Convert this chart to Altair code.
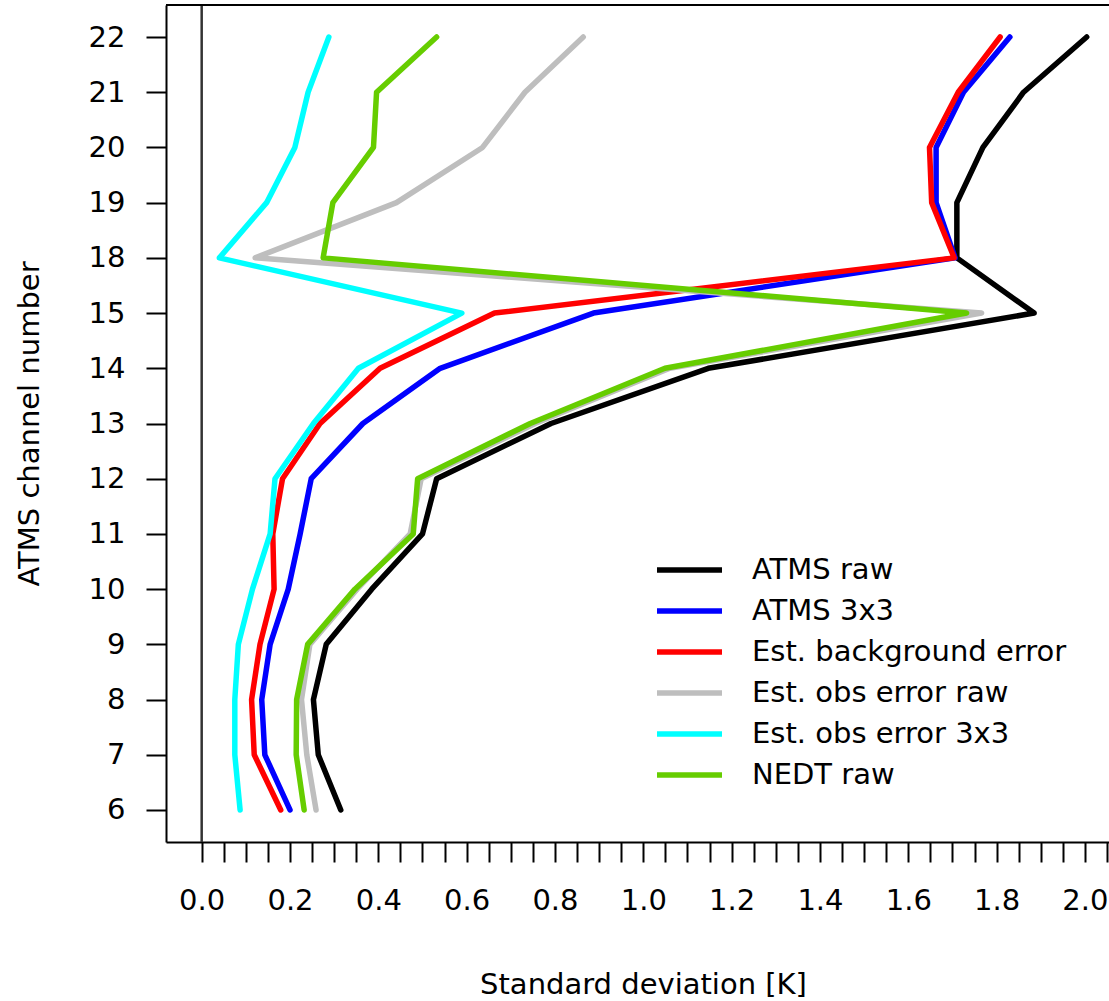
import json
import altair as alt
import pandas as pd

# ---- data ----
channels = ["6", "7", "8", "9", "10", "11", "12", "13", "14", "15", "18", "19", "20", "21", "22"]
series_names = ["ATMS raw", "ATMS 3x3", "Est. background error",
                "Est. obs error raw", "Est. obs error 3x3", "NEDT raw"]
series_colors = ["#000000", "#0000FF", "#FF0000", "#BEBEBE", "#00FFFF", "#66CD00"]

atms_raw = [0.315, 0.264, 0.253, 0.282, 0.385, 0.500, 0.532, 0.791, 1.147, 1.885,
            1.710, 1.710, 1.769, 1.861, 2.004]
atms_3x3 = [0.200, 0.143, 0.136, 0.155, 0.196, 0.223, 0.248, 0.365, 0.540, 0.887,
            1.706, 1.663, 1.663, 1.725, 1.830]
est_bg = [0.179, 0.119, 0.113, 0.132, 0.164, 0.161, 0.183, 0.268, 0.404, 0.663,
          1.704, 1.653, 1.648, 1.713, 1.808]
est_obs_raw = [0.259, 0.238, 0.226, 0.245, 0.352, 0.472, 0.497, 0.755, 1.060, 1.766,
               0.121, 0.441, 0.636, 0.732, 0.864]
est_obs_3x3 = [0.087, 0.075, 0.075, 0.083, 0.115, 0.155, 0.166, 0.253, 0.355, 0.589,
               0.040, 0.147, 0.211, 0.241, 0.288]
nedt_raw = [0.232, 0.214, 0.215, 0.240, 0.347, 0.479, 0.489, 0.744, 1.049, 1.732,
            0.275, 0.297, 0.389, 0.396, 0.532]

x_tick_values = [round(i * 0.05, 2) for i in range(42)]  # 0.00 ... 2.05
y_tick_values = list(range(len(channels)))

all_series = [atms_raw, atms_3x3, est_bg, est_obs_raw, est_obs_3x3, nedt_raw]
rows = []
for name, vals in zip(series_names, all_series):
    for i, v in enumerate(vals):
        rows.append({"series": name, "idx": i, "channel": channels[i], "value": v})
df = pd.DataFrame(rows)

FONT = "DejaVu Sans"
FS = 29
W, H = 943, 837

x_scale = alt.Scale(domain=[-0.0808, 2.0545], nice=False, zero=False)
y_scale = alt.Scale(domain=[-0.58, 14.58], nice=False, zero=False)

x_axis = alt.Axis(
    values=x_tick_values,
    labelExpr="abs(datum.value*5 - round(datum.value*5)) < 0.001 ? format(datum.value, '.1f') : ''",
    tickSize=20, tickWidth=2, tickColor="black",
    domainColor="black", domainWidth=2,
    labelFont=FONT, labelFontSize=FS, labelColor="black", labelPadding=24,
    labelOverlap=False, labelFlush=False,
    grid=False,
    title="Standard deviation [K]", titleFont=FONT, titleFontSize=FS,
    titleFontWeight="normal", titleColor="black",
    titleX=477, titleY=151, titleBaseline="alphabetic", titleAlign="center",
)
y_axis = alt.Axis(
    values=y_tick_values,
    labelExpr=json.dumps(channels).replace('"', "'") + "[datum.value]",
    tickSize=20, tickWidth=2, tickColor="black",
    domainColor="black", domainWidth=2,
    labelFont=FONT, labelFontSize=FS, labelColor="black", labelPadding=21,
    labelOverlap=False, labelFlush=False,
    grid=False,
    title="ATMS channel number", titleFont=FONT, titleFontSize=FS,
    titleFontWeight="normal", titleColor="black",
    titleAngle=270, titleX=-128, titleY=418.5, titleBaseline="alphabetic",
    titleAlign="center",
)

legend = alt.Legend(
    title=None, orient="none", legendX=509, legendY=550.5, padding=0,
    symbolType="M-5,0H5", symbolSize=169, symbolStrokeWidth=5.5,
    labelFont=FONT, labelFontSize=FS, labelColor="black", labelOffset=48,
    labelLimit=500, rowPadding=11,
)

color = alt.Color("series:N", scale=alt.Scale(domain=series_names, range=series_colors),
                  legend=legend)

vline = alt.Chart(pd.DataFrame({"x": [0.0]})).mark_rule(
    color="#333333", strokeWidth=2.5
).encode(x=alt.X("x:Q", scale=x_scale, axis=x_axis))

layers = [vline]
for name in series_names:
    layers.append(
        alt.Chart(df).transform_filter(alt.datum.series == name).mark_line(
            strokeWidth=5.5, strokeCap="round", strokeJoin="round"
        ).encode(
            x=alt.X("value:Q", scale=x_scale, axis=x_axis),
            y=alt.Y("idx:Q", scale=y_scale, axis=y_axis),
            color=color,
            order=alt.Order("idx:Q"),
        )
    )

top_border = alt.Chart(pd.DataFrame({"a": [0]})).mark_rule(
    color="black", strokeWidth=2
).encode(y=alt.value(0), x=alt.value(0), x2=alt.value(W))
layers.append(top_border)

chart = alt.layer(*layers).properties(
    width=W, height=H,
    padding={"left": 166, "top": 5, "right": 0, "bottom": 158},
    autosize=alt.AutoSizeParams(type="none"),
    background="white",
).configure_view(stroke=None)

chart.save("out.html", embed_options={"renderer": "svg", "actions": False})
